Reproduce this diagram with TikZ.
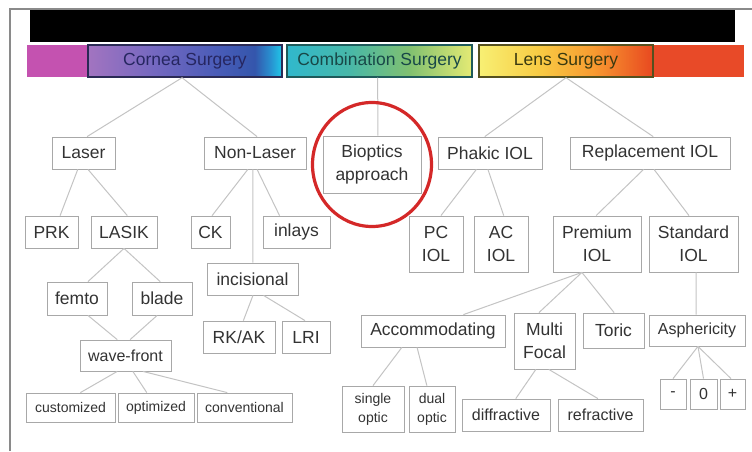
\documentclass[tikz,border=0pt]{standalone}
\usepackage{fontspec}
\setmainfont{Liberation Sans}
\usetikzlibrary{calc}
\definecolor{framegray}{HTML}{8A8A8A}
\definecolor{boxgray}{HTML}{A8A8A8}
\definecolor{linegray}{HTML}{C4C4C4}
\definecolor{txt}{HTML}{333333}
\definecolor{magentaseg}{HTML}{C452B0}
\definecolor{redseg}{HTML}{E84A28}
\definecolor{circred}{HTML}{D42828}
\definecolor{cornbord}{HTML}{2A2A55}
\definecolor{combbord}{HTML}{1E5A5A}
\definecolor{lensbord}{HTML}{55501E}
\definecolor{corntxt}{HTML}{262660}
\definecolor{combtxt}{HTML}{184848}
\definecolor{lenstxt}{HTML}{3A3A10}
\definecolor{ca}{HTML}{A274C0}
\definecolor{cb}{HTML}{7468C0}
\definecolor{cc}{HTML}{4A5CB8}
\definecolor{cd}{HTML}{3456AC}
\definecolor{ce}{HTML}{2890D0}
\definecolor{cf}{HTML}{20C8E8}
\definecolor{ma}{HTML}{30B8CC}
\definecolor{mb}{HTML}{48B8A8}
\definecolor{mc}{HTML}{80C070}
\definecolor{md}{HTML}{E4EA74}
\definecolor{la}{HTML}{F8F074}
\definecolor{lb}{HTML}{F8CC44}
\definecolor{lc}{HTML}{F89A30}
\definecolor{ld}{HTML}{E84820}
\pgfdeclarehorizontalshading{cornshade}{100bp}{color(0bp)=(ca); color(25bp)=(ca); color(42bp)=(cb); color(58bp)=(cc); color(68bp)=(cd); color(72bp)=(ce); color(75bp)=(cf); color(100bp)=(cf)}
\pgfdeclarehorizontalshading{combshade}{100bp}{color(0bp)=(ma); color(25bp)=(ma); color(42bp)=(mb); color(58bp)=(mc); color(75bp)=(md); color(100bp)=(md)}
\pgfdeclarehorizontalshading{lensshade}{100bp}{color(0bp)=(la); color(25bp)=(la); color(42bp)=(lb); color(58bp)=(lc); color(75bp)=(ld); color(100bp)=(ld)}
\newcommand\lnk[4]{\draw[conn] ($(#1.south west)!#2!(#1.south east)$) -- ($(#3.north west)!#4!(#3.north east)$);}
\tikzset{
  box/.style={draw=boxgray, line width=0.8pt, fill=white, text=txt, inner sep=0pt, align=center, font=\fontsize{17.5}{23}\selectfont},
  mid/.style={box, font=\fontsize{16}{20}\selectfont},
  small/.style={box, font=\fontsize{14}{19}\selectfont},
  conn/.style={draw=linegray, line width=1pt},
  stripbox/.style={inner sep=0pt, line width=1.4pt, font=\fontsize{17.5}{21}\selectfont}
}
\begin{document}
\begin{tikzpicture}[x=1pt, y=-1pt]
\useasboundingbox (0,0) rectangle (752,451);
\fill[white] (0,0) rectangle (752,451);
% frame
\draw[framegray, line width=1.5pt] (10,451) -- (10,9) -- (752,9);
% black bar
\fill[black] (30,10) rectangle (735,42);
% colour strip
\fill[magentaseg] (27,45) rectangle (90,77);
\fill[redseg] (651,45) rectangle (744,77);
\node[stripbox, draw=cornbord, shading=cornshade, minimum width=194pt, minimum height=32pt, text=corntxt] (cornea) at (185,61) {Cornea Surgery};
\node[stripbox, draw=combbord, shading=combshade, minimum width=185pt, minimum height=32pt, text=combtxt] (comb) at (379.5,61) {Combination Surgery};
\node[stripbox, draw=lensbord, shading=lensshade, minimum width=174pt, minimum height=32pt, text=lenstxt] (lens) at (566,61) {Lens Surgery};

% nodes
\node[box, minimum width=63pt, minimum height=32pt] (laser) at (83.5,153) {Laser};
\node[box, minimum width=102pt, minimum height=32pt] (nonlaser) at (255,153) {Non-Laser};
\node[box, minimum width=53pt, minimum height=32pt] (prk) at (51.5,232) {PRK};
\node[box, minimum width=66pt, minimum height=32pt] (lasik) at (124,232) {LASIK};
\node[box, minimum width=39pt, minimum height=32pt] (ck) at (210.5,232) {CK};
\node[box, minimum width=67pt, minimum height=32pt] (inlays) at (296.5,232) {inlays};
\node[box, minimum width=91pt, minimum height=32pt] (incis) at (252.5,279) {incisional};
\node[box, minimum width=60pt, minimum height=33pt] (femto) at (77,298.5) {femto};
\node[box, minimum width=60pt, minimum height=33pt] (blade) at (162,298.5) {blade};
\node[box, minimum width=72pt, minimum height=32pt] (rkak) at (239,337) {RK/AK};
\node[box, minimum width=48pt, minimum height=32pt] (lri) at (306,337) {LRI};
\node[mid, minimum width=91pt, minimum height=31pt] (wave) at (125.5,355.5) {wave-front};
\node[small, minimum width=89pt, minimum height=29pt] (cust) at (70.5,407.5) {customized};
\node[small, minimum width=76pt, minimum height=29pt] (opt) at (156,407.5) {optimized};
\node[small, minimum width=95pt, minimum height=29pt] (conv) at (244.5,407.5) {conventional};
\node[box, minimum width=98pt, minimum height=57pt] (bio) at (372,164.5) {Bioptics\\approach};
\node[box, minimum width=104pt, minimum height=32pt] (phakic) at (490,153) {Phakic IOL};
\node[box, minimum width=160pt, minimum height=32pt] (repl) at (650,153) {Replacement IOL};
\node[box, minimum width=54pt, minimum height=56pt] (pc) at (436,244) {PC\\IOL};
\node[box, minimum width=54pt, minimum height=56pt] (ac) at (501,244) {AC\\IOL};
\node[box, minimum width=88pt, minimum height=56pt] (prem) at (597,244) {Premium\\IOL};
\node[box, minimum width=89pt, minimum height=56pt] (std) at (693.5,244) {Standard\\IOL};
\node[box, minimum width=144pt, minimum height=32pt] (accom) at (433,331) {Accommodating};
\node[box, minimum width=61pt, minimum height=56pt] (multi) at (544.5,341) {Multi\\Focal};
\node[box, minimum width=61pt, minimum height=35pt] (toric) at (613.5,330.5) {Toric};
\node[mid, minimum width=96pt, minimum height=31pt] (asph) at (697,330.5) {Asphericity};
\node[small, minimum width=62pt, minimum height=46pt] (single) at (373,409) {single\\optic};
\node[small, minimum width=46pt, minimum height=46pt] (dual) at (432,409) {dual\\optic};
\node[mid, minimum width=88pt, minimum height=32pt] (diff) at (506,415) {diffractive};
\node[mid, minimum width=85pt, minimum height=32pt] (refr) at (600.5,415) {refractive};
\node[mid, minimum width=26pt, minimum height=30pt] (minus) at (673,394) {-};
\node[mid, minimum width=27pt, minimum height=30pt] (zero) at (703.5,394) {0};
\node[mid, minimum width=25pt, minimum height=30pt] (plus) at (732.5,394) {+};

% connectors
\lnk{cornea}{0.485}{laser}{0.556}
\lnk{cornea}{0.485}{nonlaser}{0.52}
\lnk{laser}{0.41}{prk}{0.66}
\lnk{laser}{0.57}{lasik}{0.55}
\lnk{nonlaser}{0.43}{ck}{0.54}
\lnk{nonlaser}{0.48}{incis}{0.505}
\lnk{nonlaser}{0.52}{inlays}{0.25}
\lnk{lasik}{0.5}{femto}{0.68}
\lnk{lasik}{0.5}{blade}{0.47}
\lnk{femto}{0.68}{wave}{0.41}
\lnk{blade}{0.42}{wave}{0.55}
\lnk{wave}{0.41}{cust}{0.61}
\lnk{wave}{0.58}{opt}{0.38}
\lnk{wave}{0.69}{conv}{0.32}
\lnk{incis}{0.505}{rkak}{0.56}
\lnk{incis}{0.62}{lri}{0.48}
\lnk{comb}{0.49}{bio}{0.56}
\lnk{lens}{0.5}{phakic}{0.45}
\lnk{lens}{0.5}{repl}{0.52}
\lnk{phakic}{0.37}{pc}{0.59}
\lnk{phakic}{0.48}{ac}{0.55}
\lnk{repl}{0.46}{prem}{0.49}
\lnk{repl}{0.525}{std}{0.45}
\lnk{prem}{0.33}{accom}{0.71}
\lnk{prem}{0.33}{multi}{0.41}
\lnk{prem}{0.33}{toric}{0.51}
\lnk{std}{0.53}{asph}{0.49}
\lnk{accom}{0.285}{single}{0.5}
\lnk{accom}{0.39}{dual}{0.39}
\lnk{multi}{0.36}{diff}{0.61}
\lnk{multi}{0.57}{refr}{0.47}
\lnk{asph}{0.51}{minus}{0.5}
\lnk{asph}{0.51}{zero}{0.5}
\lnk{asph}{0.51}{plus}{0.44}

% red circle
\draw[circred, line width=3.2pt] (bio.center) ellipse [x radius=59.5pt, y radius=62pt];
\end{tikzpicture}
\end{document}
